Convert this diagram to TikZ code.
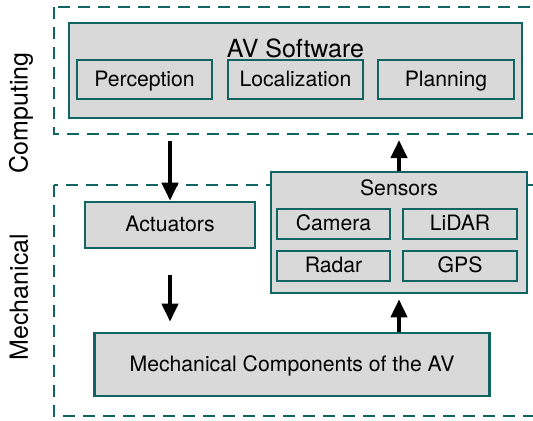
\documentclass[tikz,border=0pt]{standalone}
\usepackage{fontspec}
\setmainfont{TeX Gyre Heros}
\usetikzlibrary{arrows.meta}

\definecolor{tealline}{RGB}{16,100,98}
\definecolor{boxgray}{RGB}{217,217,217}

\tikzset{
  blk/.style={draw=tealline, line width=1.3pt, fill=boxgray, inner sep=0pt,
    text height=7pt, text depth=0.5pt, font=\fontsize{10.6}{12}\selectfont},
  grp/.style={draw=tealline, line width=1pt, dash pattern=on 6pt off 4pt},
  arr/.style={line width=2pt, -{Triangle[length=9pt,width=8pt]}},
  side/.style={rotate=90, font=\fontsize{12.5}{14}\selectfont}
}

\begin{document}
\begin{tikzpicture}[x=0.5pt, y=-0.5pt]

\clip (0,0) rectangle (533,420);

%% groups
\draw[grp] (54,7) rectangle (545,134);
\draw[grp] (54,185) rectangle (545,416);
\node[side] (lcomp) at (21,113) {Computing};
\node[side] (lmech) at (19,297) {Mechanical};

%% software
\node[blk, minimum width=226.5pt, minimum height=47.5pt] (sw) at (295.5,70.5) {};
\node[font=\fontsize{12.5}{14}\selectfont] (swt) at (295.5,48) {AV Software};
\node[blk, minimum width=67.5pt, minimum height=19.5pt] (perc) at (144.5,79.5) {Perception};
\node[blk, minimum width=67.5pt, minimum height=19.5pt] (loc) at (295.5,79.5) {Localization};
\node[blk, minimum width=68pt, minimum height=19.5pt] (plan) at (446,79.5) {Planning};

%% sensors
\node[blk, minimum width=128pt, minimum height=60.5pt] (sens) at (399,232.5) {};
\node[font=\fontsize{10.6}{12}\selectfont] (senst) at (399,188) {Sensors};
\node[blk, minimum width=56.5pt, minimum height=15pt] (cam) at (333.5,224) {Camera};
\node[blk, minimum width=57pt, minimum height=15pt] (lidar) at (460,224) {LiDAR};
\node[blk, minimum width=56.5pt, minimum height=15pt] (radar) at (333.5,266) {Radar};
\node[blk, minimum width=57pt, minimum height=15pt] (gps) at (460,266) {GPS};

%% mechanical
\node[blk, minimum width=85pt, minimum height=23pt] (act) at (170,225) {Actuators};
\node[blk, minimum width=197.5pt, minimum height=31.5pt] (mech) at (292,364.5) {Mechanical Components of the AV};

%%% arrows
\coordinate (cin) at (170,141);
\coordinate (cout) at (399,140);
\draw[arr] (cin) -- (act.north);
\draw[arr] (sens.north) -- (cout);
\draw[arr, shorten <=13pt, shorten >=5pt] (act.south) -- (act.south |- mech.north);
\draw[arr, shorten >=2.5pt] (mech.north -| sens.south) -- (sens.south);

\end{tikzpicture}
\end{document}
